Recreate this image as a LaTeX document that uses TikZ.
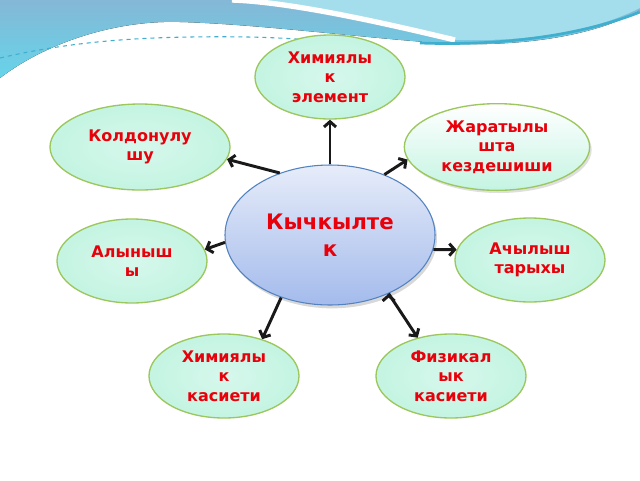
\documentclass[tikz,border=0pt]{standalone}
\usepackage{fontspec}
\setmainfont{DejaVu Sans}
\usepackage{xcolor}
\usepackage{tikz}
\usetikzlibrary{arrows.meta}
\usetikzlibrary{positioning}
\usetikzlibrary{shapes.geometric}
\usetikzlibrary{shadows}

\definecolor{mint}{HTML}{C4F4E2}
\definecolor{mintlight}{HTML}{D6F8EC}
\definecolor{leaf}{HTML}{9CC75C}
\definecolor{oxtop}{HTML}{E6ECF9}
\definecolor{oxbottom}{HTML}{A4BBEC}
\definecolor{oxline}{HTML}{5282C0}
\definecolor{textred}{HTML}{E8000B}
\definecolor{bgtop}{HTML}{84B8D6}
\definecolor{bgcyan}{HTML}{66D4EA}
\definecolor{bglight}{HTML}{A4DDEB}
\definecolor{bgline}{HTML}{3FAFCF}

\begin{document}
\begin{tikzpicture}[on grid,
	>={Straight Barb[length=4pt,width=9pt]},
    topic/.style = {ellipse, draw=leaf, line width=1pt, inner sep=0pt,
                    minimum width=112.5pt, minimum height=63pt, align=center,
                    inner color=mintlight, outer color=mint,
                    font=\fontsize{12}{14.5}\selectfont\bfseries, text=textred},
    core/.style = {ellipse, draw=oxline, line width=0.8pt, inner sep=0pt,
                   minimum width=157.5pt, minimum height=105pt, align=center,
                   top color=oxtop, bottom color=oxbottom,
                   drop shadow={opacity=0.3, shadow xshift=1.5pt, shadow yshift=-2.5pt},
                   font=\fontsize{16}{20}\selectfont\bfseries, text=textred},
    link/.style = {->, line width=2.2pt, draw=black!90}]
  % background
  \fill[white] (0,0) rectangle (480pt,-360pt);
  \useasboundingbox (0,0) rectangle (480pt,-360pt);
  \begin{scope}[x=0.75pt,y=0.75pt]
    \fill[top color=bgtop, bottom color=bgcyan]
      (0,0) -- (640,0) -- (640,-10) .. controls (600,-34) and (530,-46) .. (455,-44)
      .. controls (380,-40) and (260,-24) .. (180,-22)
      .. controls (120,-20) and (50,-40) .. (0,-78) -- cycle;
    \fill[bglight] (232,0) .. controls (290,-2) and (380,-22) .. (455,-40)
      .. controls (540,-42) and (600,-28) .. (640,-8) -- (640,0) -- cycle;
    \draw[white, line width=4pt] (232,0) .. controls (290,-2) and (380,-22) .. (455,-40);
    \draw[bgline, line width=2pt] (420,-43) .. controls (500,-46) and (580,-36) .. (640,-12);
    \draw[bgline, dashed, line width=0.8pt] (0,-58) .. controls (60,-44) and (120,-38) .. (190,-37)
      .. controls (250,-36) and (290,-38) .. (320,-41);
  \end{scope}

  \node (ox) [core] at (247.5pt,-176.25pt) {Кычкылте\\к};
  \node (elem) [topic, above=118.5pt of ox] {Химиялы\\к\\элемент};
  \node (use) [topic, minimum width=135pt, minimum height=64.5pt,
               above left=66pt and 142.5pt of ox] {Колдонулу\\шу};
  \node (nature) [topic, minimum width=139pt, minimum height=65pt,
                  top color=white, bottom color=mint,
                  drop shadow={opacity=0.25, shadow xshift=1.5pt, shadow yshift=-2pt},
                  above right=66pt and 125.25pt of ox] {Жаратылы\\шта\\кездешиши};
  \node (prod) [topic, below left=19.5pt and 148.5pt of ox] {Алыныш\\ы};
  \node (hist) [topic, below right=18.75pt and 150pt of ox] {Ачылыш\\тарыхы};
  \node (chem) [topic, below left=105.75pt and 79.5pt of ox] {Химиялы\\к\\касиети};
  \node (phys) [topic, below right=105.75pt and 90.75pt of ox] {Физикал\\ык\\касиети};

  \path[link]
	(ox.90) edge (elem.270)
	(ox.129) edge (use.352)
	(ox.48) edge (nature.188)
	(ox.184) edge (prod.9)
	(ox.352) edge (hist.172)
	(ox.232) edge (chem.44)
	(ox.315) edge (phys.131);
\end{tikzpicture}
\end{document}
